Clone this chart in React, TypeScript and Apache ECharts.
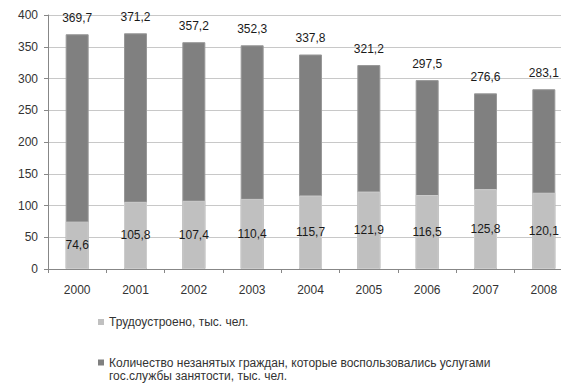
import React, { useEffect, useRef } from "react";
import * as echarts from "echarts";

const years = ["2000", "2001", "2002", "2003", "2004", "2005", "2006", "2007", "2008"];
const employed = [74.6, 105.8, 107.4, 110.4, 115.7, 121.9, 116.5, 125.8, 120.1];
const served = [369.7, 371.2, 357.2, 352.3, 337.8, 321.2, 297.5, 276.6, 283.1];
const employedName = "Трудоустроено, тыс. чел.";
const servedName =
  "Количество незанятых граждан, которые воспользовались услугами\nгос.службы занятости, тыс. чел.";

const FONT = "Liberation Sans";
const fmt = (p: any) => Number(p.value).toFixed(1).replace(".", ",");
// square at the top of a taller icon box, so it lines up with the first text line
const TOP_SQUARE_ICON = "path://M0,0H6V6H0Z M0,19.99H0.01V20H0Z";

export default function App() {
  const ref = useRef<HTMLDivElement>(null);
  useEffect(() => {
    if (!ref.current) return;
    const chart = echarts.init(ref.current, undefined, { renderer: "svg" });
    chart.setOption({
      animation: false,
      backgroundColor: "#ffffff",
      textStyle: { fontFamily: FONT },
      grid: { left: 48, right: 15, top: 15, height: 254 },
      xAxis: {
        type: "category",
        data: years,
        axisLine: { lineStyle: { color: "#878787" } },
        axisTick: { show: true, length: 4, lineStyle: { color: "#878787" } },
        axisLabel: { color: "#333", fontSize: 12, margin: 15, fontFamily: FONT },
      },
      yAxis: {
        type: "value",
        min: 0,
        max: 400,
        interval: 50,
        axisLine: { show: true, lineStyle: { color: "#878787" } },
        axisTick: { show: true, length: 4, lineStyle: { color: "#878787" } },
        axisLabel: { color: "#333", fontSize: 12, margin: 10, fontFamily: FONT },
        splitLine: { lineStyle: { color: "#c8c8c8" } },
      },
      legend: [
        {
          data: [employedName],
          orient: "vertical",
          left: 98,
          top: 316,
          padding: 0,
          itemWidth: 6,
          itemHeight: 6,
          itemGap: 0,
          icon: "rect",
          itemStyle: { borderWidth: 0 },
          textStyle: { color: "#333", fontSize: 12, fontFamily: FONT },
        },
        {
          data: [servedName],
          orient: "vertical",
          left: 98,
          top: 356,
          padding: 0,
          itemWidth: 6,
          itemHeight: 20,
          itemGap: 0,
          icon: TOP_SQUARE_ICON,
          itemStyle: { borderWidth: 0 },
          textStyle: {
            color: "#333",
            fontSize: 12,
            lineHeight: 13.5,
            fontFamily: FONT,
          },
        },
      ],
      graphic: [
        {
          type: "rect",
          left: 561,
          top: 5,
          shape: { width: 27, height: 270 },
          style: { fill: "#ffffff" },
          z: 1,
        },
      ],
      series: [
        {
          name: servedName,
          type: "bar",
          data: served,
          barWidth: 23,
          itemStyle: { color: "#808080", borderColor: "#989898", borderWidth: 1 },
          label: {
            show: true,
            position: "top",
            distance: 10,
            color: "#1a1a1a",
            fontSize: 12,
            fontFamily: FONT,
            formatter: fmt,
          },
          z: 2,
        },
        {
          name: employedName,
          type: "bar",
          data: employed,
          barWidth: 23,
          barGap: "-100%",
          itemStyle: { color: "#c0c0c0", borderColor: "#cccccc", borderWidth: 1 },
          label: {
            show: true,
            position: "inside",
            color: "#1a1a1a",
            fontSize: 12,
            fontFamily: FONT,
            formatter: fmt,
          },
          z: 3,
        },
      ],
    });
    return () => chart.dispose();
  }, []);
  return (
    <div
      ref={ref}
      style={{ position: "absolute", left: 0, top: 0, width: 588, height: 383 }}
    />
  );
}
